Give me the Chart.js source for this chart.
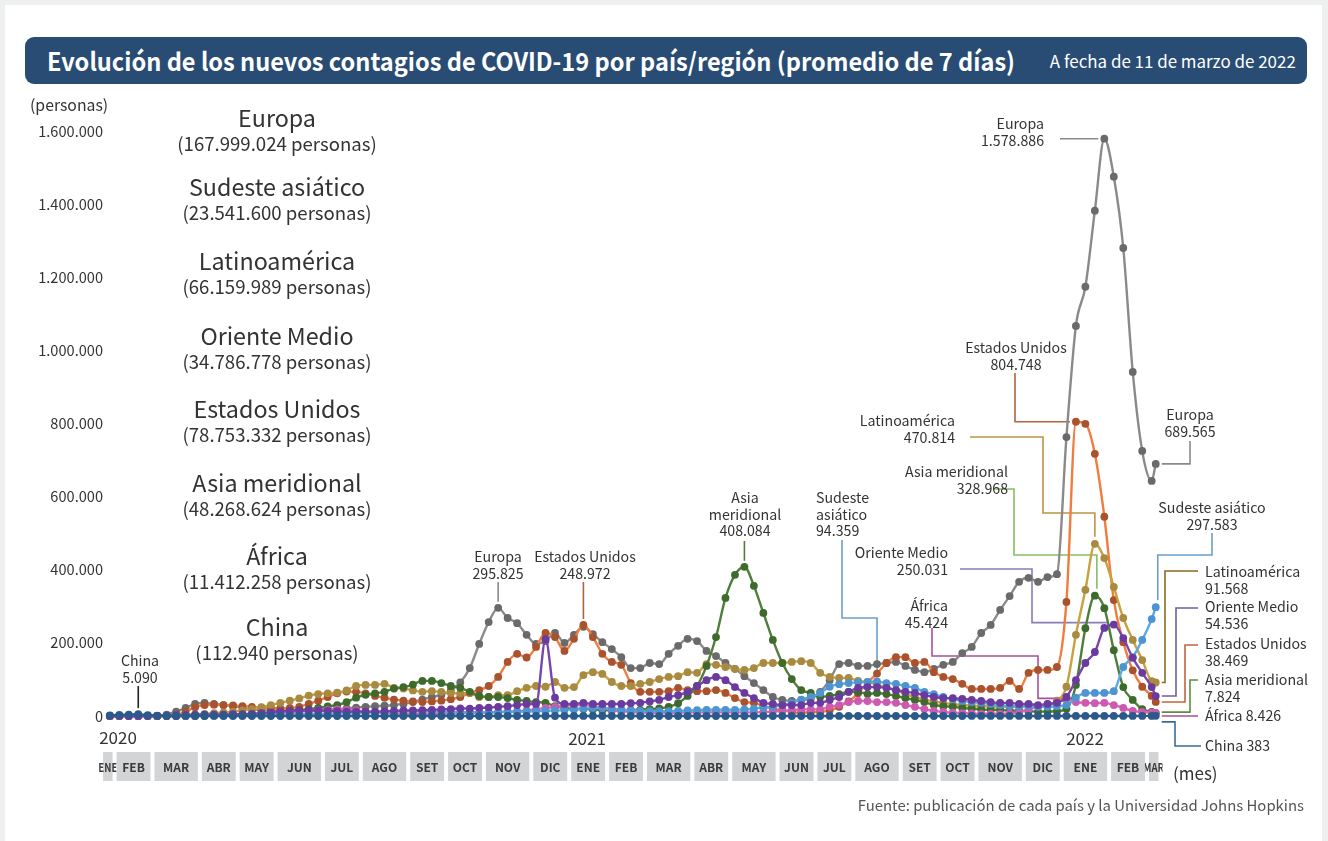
<!DOCTYPE html>
<html lang="es">
<head>
<meta charset="utf-8">
<script src="https://cdn.jsdelivr.net/npm/chart.js@4.4.1/dist/chart.umd.min.js"></script>
<style>
  html, body { margin: 0; padding: 0; background: #eef0f0; }
  body { width: 1328px; height: 841px; position: relative; overflow: hidden;
         font-family: "Noto Sans CJK JP", "Noto Sans", sans-serif; color: #333; }
  #card { position: absolute; left: 5px; top: 5px; width: 1317px; height: 840px; background: #fff; }
  #bar { position: absolute; left: 25px; top: 37px; width: 1282px; height: 47px; background: #284c73; border-radius: 9px; }
  #title { position: absolute; left: 22px; top: 0; line-height: 47px; font-size: 25px; font-weight: 700;
           color: #fff; white-space: nowrap; transform-origin: left center; }
  #date { position: absolute; right: 11px; top: 0; line-height: 47px; font-size: 17px; color: #fff;
          white-space: nowrap; transform-origin: right center; }
  canvas { position: absolute; left: 0; top: 0; }
  .t { position: absolute; white-space: nowrap; }
  .name { font-size: 23.3px; line-height: 28px; width: 400px; text-align: center; }
  .sub { font-size: 18.6px; line-height: 22px; width: 400px; text-align: center; }
</style>
</head>
<body>
<div id="card"></div>
<div id="bar">
  <span id="title">Evolución de los nuevos contagios de COVID-19 por país/región (promedio de 7 días)</span>
  <span id="date">A fecha de 11 de marzo de 2022</span>
</div>
<canvas id="chart" width="1328" height="841"></canvas>
<div id="texts"></div>
<script>
const FONT = '"Noto Sans CJK JP", "Noto Sans", sans-serif';

// semanas (lunes) + último dato del 10 de marzo de 2022
const weeks = [];
for (let t = Date.UTC(2020, 0, 27); t <= Date.UTC(2022, 2, 7); t += 7 * 864e5) {
  weeks.push(new Date(t).toISOString().slice(0, 10));
}
weeks.push("2022-03-10");

const monthLabels = ["ENE", "FEB", "MAR", "ABR", "MAY", "JUN", "JUL", "AGO", "SET", "OCT", "NOV", "DIC"];
const yTicks = [0, 200000, 400000, 600000, 800000, 1000000, 1200000, 1400000, 1600000];

// nuevos contagios, promedio de 7 días (miles de personas)
const europa = [
  0, 0, 0, 0.1, 0.3, 1, 4, 12, 22, 33,
  36, 33, 30, 27, 22, 18, 16, 15, 15, 16,
  17, 17, 18, 18, 19, 21, 23, 25, 27, 28,
  30, 33, 38, 45, 52, 58, 70, 92, 131, 197,
  257, 295.825, 268, 254, 222, 197, 205, 227, 200, 222,
  244, 224, 202, 183, 161, 131, 131, 145, 142, 170,
  192, 211, 205, 178, 164, 145, 129, 109, 90, 71,
  52, 44, 41, 44, 47, 66, 98, 142, 145, 137,
  137, 142, 145, 148, 137, 126, 120, 129, 140, 148,
  172, 189, 227, 249, 290, 328, 367, 378, 367, 380,
  388, 763, 1067, 1174, 1382, 1578.886, 1475, 1280, 941, 725,
  643, 689.565
];
const estadosUnidos = [
  0, 0, 0, 0, 0, 0.1, 0.5, 3, 12, 24,
  30, 31, 30, 29, 27, 25, 23, 22, 21, 22,
  25, 33, 42, 52, 62, 67, 66, 62, 55, 50,
  45, 42, 40, 38, 40, 42, 46, 52, 63, 71,
  82, 107, 148, 170, 160, 189, 227, 216, 178, 211,
  248.972, 216, 170, 148, 140, 90, 66, 66, 66, 68,
  77, 71, 68, 68, 71, 63, 49, 38, 36, 27,
  19, 16, 11, 8, 11, 11, 16, 25, 40, 62,
  92, 116, 145, 161, 161, 145, 148, 120, 107, 101,
  88, 74, 74, 74, 77, 96, 74, 118, 126, 126,
  134, 312, 804.748, 799, 717, 545, 317, 202, 125, 80,
  55, 38.469
];
const latinoamerica = [
  0, 0, 0, 0, 0, 0.1, 0.3, 1, 2.5, 4,
  6, 8, 10, 12, 15, 19, 24, 30, 36, 42,
  48, 56, 60, 62, 64, 70, 82, 85, 85, 88,
  77, 75, 70, 66, 68, 66, 63, 62, 63, 52,
  52, 57, 57, 68, 77, 82, 80, 93, 77, 79,
  112, 120, 115, 93, 82, 82, 88, 93, 101, 107,
  109, 120, 118, 142, 140, 134, 129, 126, 131, 145,
  145, 145, 148, 150, 145, 118, 107, 104, 104, 96,
  93, 85, 78, 70, 60, 52, 45, 40, 36, 32,
  30, 28, 27, 26, 25, 25, 25, 26, 27, 30,
  42, 80, 222, 345, 470.814, 432, 353, 268, 208, 153,
  95, 91.568
];
const asiaMeridional = [
  0, 0, 0, 0, 0, 0, 0, 0, 0.1, 0.3,
  0.8, 1.5, 2, 2.5, 3.5, 5, 6.5, 8, 10, 13,
  16, 19, 22, 26, 30, 38, 50, 58, 62, 66,
  75, 79, 86, 96, 96, 90, 82, 77, 66, 55,
  52, 52, 49, 44, 41, 38, 36, 27, 22, 19,
  19, 18, 16, 15, 15, 16, 17, 19, 21, 25,
  35, 55, 82, 137, 216, 323, 386, 408.084, 356, 282,
  208, 145, 101, 71, 63, 52, 55, 60, 66, 66,
  60, 63, 60, 55, 49, 44, 38, 30, 27, 25,
  22, 20, 18, 17, 16, 15, 14, 13, 12, 12,
  13, 20, 85, 240, 328.968, 295, 180, 79, 44, 19,
  11, 7.824
];
const orienteMedio = [
  0, 0, 0, 0, 0.05, 0.3, 1, 2, 3, 3.5,
  3.5, 3.5, 4, 5, 5, 6, 8, 10, 12, 14,
  15, 15, 15, 14, 13, 12, 12, 12, 12, 13,
  14, 15, 15, 16, 17, 18, 19, 21, 20, 22,
  23, 25, 27, 30, 33, 33, 210, 50, 33, 33,
  36, 33, 33, 33, 33, 35, 36, 40, 44, 52,
  57, 66, 82, 98, 107, 98, 79, 63, 49, 36,
  33, 30, 30, 30, 36, 36, 44, 52, 66, 77,
  79, 79, 77, 71, 66, 63, 57, 52, 49, 49,
  47, 44, 41, 38, 36, 36, 33, 33, 30, 33,
  36, 52, 98, 145, 175, 241, 250.031, 213, 159, 118,
  79, 54.536
];
const sudesteAsiatico = [
  0, 0, 0, 0, 0, 0.1, 0.3, 0.8, 1.2, 1.5,
  1.8, 2, 2, 2.2, 2.5, 2.8, 3, 3.5, 4, 4.5,
  5, 5.5, 6, 6.5, 7, 7.5, 8, 9, 10, 11,
  12, 12.5, 13, 13, 12.5, 12, 11, 11, 10.5, 10,
  10, 10.5, 11, 11.5, 12, 13, 14, 15, 16, 18,
  20, 22, 22, 20, 18, 16, 14, 13, 13, 13,
  14, 15, 16, 17, 17, 17, 17, 18, 20, 23,
  25, 30, 36, 45, 52, 63, 80, 87, 90, 92,
  93, 94.359, 90, 88, 82, 77, 66, 60, 52, 46,
  41, 38, 36, 33, 30, 27, 27, 27, 25, 25,
  27, 30, 50, 63, 63, 63, 68, 134, 161, 208,
  265, 297.583
];
const africa = [
  0, 0, 0, 0, 0, 0, 0.05, 0.2, 0.5, 0.8,
  1, 1.5, 2, 2.5, 3, 4, 5, 6, 8, 10,
  12, 14, 16, 17, 18, 17, 15, 12, 10, 8,
  7, 6, 6, 6, 6, 6, 7, 8, 9, 9,
  10, 11, 12, 13, 15, 18, 22, 25, 28, 30,
  30, 27, 22, 17, 13, 11, 10, 9, 9, 9,
  9, 10, 10, 10, 10, 10, 10, 10, 10, 11,
  12, 14, 16, 18, 18, 18, 25, 30, 38, 41,
  41, 38, 38, 36, 30, 25, 19, 14, 11, 9,
  8, 7, 6, 6, 6, 7, 10, 18, 26, 32,
  38, 45.424, 38, 36, 35, 36, 30, 22, 14, 11,
  9, 8.426
];
const china = [
  1.8, 3.0, 3.9, 5.09, 2.2, 0.5, 0.05, 0.05, 0.07, 0.05,
  0.05, 0.07, 0.03, 0.01, 0.01, 0.01, 0.01, 0.01, 0.02, 0.03,
  0.03, 0.02, 0.02, 0.02, 0.03, 0.06, 0.1, 0.05, 0.03, 0.02,
  0.02, 0.02, 0.02, 0.02, 0.02, 0.02, 0.02, 0.02, 0.02, 0.02,
  0.02, 0.02, 0.02, 0.02, 0.02, 0.03, 0.03, 0.05, 0.06, 0.1,
  0.12, 0.1, 0.06, 0.03, 0.02, 0.02, 0.02, 0.02, 0.02, 0.02,
  0.02, 0.02, 0.02, 0.02, 0.02, 0.02, 0.02, 0.02, 0.02, 0.03,
  0.03, 0.03, 0.03, 0.03, 0.04, 0.06, 0.08, 0.1, 0.09, 0.06,
  0.04, 0.04, 0.04, 0.04, 0.04, 0.04, 0.04, 0.04, 0.04, 0.05,
  0.06, 0.07, 0.08, 0.08, 0.07, 0.07, 0.07, 0.08, 0.08, 0.1,
  0.13, 0.15, 0.16, 0.16, 0.15, 0.14, 0.14, 0.15, 0.17, 0.22,
  0.3, 0.383
];

// totales acumulados (texto de la izquierda)
const regions = ["Europa", "Sudeste asiático", "Latinoamérica", "Oriente Medio", "Estados Unidos", "Asia meridional", "África", "China"];
const totals = ["167.999.024", "23.541.600", "66.159.989", "34.786.778", "78.753.332", "48.268.624", "11.412.258", "112.940"];

const fmt = v => Math.round(v).toString().replace(/\B(?=(\d{3})+(?!\d))/g, ".");
const xPos = weeks.map(w => (Date.parse(w) - Date.parse(weeks[0])) / (7 * 864e5));

const seriesByName = {
  "Europa": europa, "Estados Unidos": estadosUnidos, "Latinoamérica": latinoamerica,
  "Asia meridional": asiaMeridional, "Oriente Medio": orienteMedio,
  "Sudeste asiático": sudesteAsiatico, "África": africa, "China": china
};

function serie(label, line, dot, order) {
  return {
    label: label,
    data: seriesByName[label].map((v, i) => ({ x: xPos[i], y: v * 1000 })),
    borderColor: line,
    backgroundColor: dot,
    pointBackgroundColor: dot,
    pointBorderWidth: 0,
    pointRadius: 3.9,
    borderWidth: 2.4,
    cubicInterpolationMode: "monotone",
    clip: false,
    order: order
  };
}

// etiquetas con líneas guía
const last = weeks.length - 1;
const notes = [
  { s: "China", i: 3, lines: ["China", "{v}"], tx: 140, ty: 661, align: "center", color: "#222",
    path: p => [[p.x, 686], [p.x, p.y - 6]] },
  { s: "Europa", i: 41, lines: ["Europa", "{v}"], tx: 498, ty: 557, align: "center", color: "#8a8a8a",
    path: p => [[p.x, 582], [p.x, p.y - 6]] },
  { s: "Estados Unidos", i: 50, lines: ["Estados Unidos", "{v}"], tx: 585, ty: 557, align: "center", color: "#b4643c",
    path: p => [[p.x, 582], [p.x, p.y - 6]] },
  { s: "Asia meridional", i: 67, lines: ["Asia", "meridional", "{v}"], tx: 745, ty: 498, align: "center", color: "#4e7d3a",
    path: p => [[p.x, 541], [p.x, p.y - 6]] },
  { s: "Sudeste asiático", i: 81, lines: ["Sudeste", "asiático", "{v}"], tx: 816, ty: 498, align: "left", color: "#6a9fcc",
    path: p => [[842, 540], [842, 618], [p.x, 618], [p.x, p.y - 6]] },
  { s: "Oriente Medio", i: 106, lines: ["Oriente Medio", "{v}"], tx: 948, ty: 553, align: "right", color: "#8b7bb8",
    path: p => [[960, 569], [1032, 569], [1032, p.y - 2], [p.x - 7, p.y - 2]] },
  { s: "África", i: 101, lines: ["África", "{v}"], tx: 948, ty: 606, align: "right", color: "#a8509a",
    path: p => [[932, 628], [932, 656], [1038, 656], [1038, p.y - 1], [p.x + 5, p.y - 1]] },
  { s: "Estados Unidos", i: 102, lines: ["Estados Unidos", "{v}"], tx: 1016, ty: 348, align: "center", color: "#b4643c",
    path: p => [[1015, 373], [1015, p.y], [p.x - 6, p.y]] },
  { s: "Europa", i: 105, lines: ["Europa", "{v}"], tx: 1044, ty: 124, align: "right", color: "#8a8a8a",
    path: p => [[1060, p.y], [p.x - 6, p.y]] },
  { s: "Latinoamérica", i: 104, lines: ["Latinoamérica", "{v}"], tx: 955, ty: 421, align: "right", color: "#bb9540",
    path: p => [[970, 437], [1043, 437], [1043, 513], [p.x, 513], [p.x, p.y - 7]] },
  { s: "Asia meridional", i: 104, lines: ["Asia meridional", "{v}"], tx: 1008, ty: 472, align: "right", color: "#86bf5f",
    path: p => [[993, 489], [1014, 489], [1014, 555], [p.x + 2, 555], [p.x + 2, p.y - 7]] },
  { s: "Europa", i: last, lines: ["Europa", "{v}"], tx: 1190, ty: 415, align: "center", color: "#8a8a8a",
    path: p => [[1190, 441], [1190, p.y], [p.x + 6, p.y]] },
  { s: "Sudeste asiático", i: last, lines: ["Sudeste asiático", "{v}"], tx: 1212, ty: 508, align: "center", color: "#6a9fcc",
    path: p => [[1212, 533], [1212, 555], [p.x + 2, 555], [p.x + 2, p.y - 7]] },
  { s: "Latinoamérica", i: last, lines: ["Latinoamérica", "{v}"], tx: 1205, ty: 572, align: "left", color: "#8c6c1e",
    path: p => [[1198, 571], [1165, 571], [1165, p.y], [p.x + 6, p.y]] },
  { s: "Oriente Medio", i: last, lines: ["Oriente Medio", "{v}"], tx: 1205, ty: 607, align: "left", color: "#6d5f9c",
    path: p => [[1198, 608], [1176, 608], [1176, p.y], [p.x + 6, p.y]] },
  { s: "Estados Unidos", i: last, lines: ["Estados Unidos", "{v}"], tx: 1205, ty: 644, align: "left", color: "#c0663c",
    path: p => [[1198, 645], [1185, 645], [1185, p.y], [p.x + 6, p.y]] },
  { s: "Asia meridional", i: last, lines: ["Asia meridional", "{v}"], tx: 1205, ty: 680, align: "left", color: "#5d8f3e",
    path: p => [[1198, 680], [1190, 680], [1190, p.y - 1], [p.x + 6, p.y - 1]] },
  { s: "África", i: last, lines: ["África {v}"], tx: 1205, ty: 716, align: "left", color: "#b04a9a",
    path: p => [[1198, 716], [p.x + 6, 716]] },
  { s: "China", i: last, lines: ["China {v}"], tx: 1205, ty: 746, align: "left", color: "#3b6b9b",
    path: p => [[p.x + 6, p.y + 6], [1175, p.y + 6], [1175, 746], [1201, 746]] }
];

function notePoint(chart, n) {
  const vals = seriesByName[n.s];
  return {
    x: chart.scales.x.getPixelForValue(xPos[n.i]),
    y: chart.scales.y.getPixelForValue(vals[n.i] * 1000)
  };
}

const overlay = {
  id: "overlay",
  beforeDatasetsDraw(chart) {
    const ctx = chart.ctx;
    ctx.save();
    ctx.lineWidth = 1.6;
    notes.forEach(n => {
      const pts = n.path(notePoint(chart, n));
      ctx.strokeStyle = n.color;
      ctx.beginPath();
      pts.forEach((q, k) => k ? ctx.lineTo(q[0], q[1]) : ctx.moveTo(q[0], q[1]));
      ctx.stroke();
    });
    ctx.restore();
  },
  afterDatasetsDraw(chart) {
    const ctx = chart.ctx;
    const x = chart.scales.x;
    ctx.save();

    // barras de meses
    const groups = [];
    weeks.forEach((w, i) => {
      const key = w.slice(0, 7);
      const g = groups[groups.length - 1];
      if (g && g.key === key) g.last = i;
      else groups.push({ key: key, first: i, last: i, m: +w.slice(5, 7) - 1 });
    });
    ctx.font = "bold 12px " + FONT;
    ctx.textAlign = "center";
    ctx.textBaseline = "middle";
    groups.forEach((g, k) => {
      let x1 = x.getPixelForValue(xPos[g.first] - 0.5) + 2;
      const x2 = x.getPixelForValue(xPos[g.last] + 0.5) - 2;
      if (k === 0) x1 -= 4;
      ctx.fillStyle = "#d3d4d6";
      ctx.fillRect(x1, 752, x2 - x1, 29);
      const narrow = x2 - x1 < 20;
      ctx.save();
      ctx.beginPath();
      ctx.rect(x1 - (narrow ? 4 : 0), 752, x2 - x1 + (narrow ? 8 : 0), 29);
      ctx.clip();
      ctx.fillStyle = "#3a3a3a";
      const cx = (x1 + x2) / 2;
      if (narrow) {
        ctx.translate(cx, 767);
        ctx.scale(0.8, 1);
        ctx.fillText(monthLabels[g.m], 0, 0);
      } else {
        ctx.fillText(monthLabels[g.m], cx, 767);
      }
      ctx.restore();
    });

    // textos de las etiquetas
    ctx.font = "14.2px " + FONT;
    ctx.fillStyle = "#333";
    notes.forEach(n => {
      const v = fmt(seriesByName[n.s][n.i] * 1000);
      ctx.textAlign = n.align;
      n.lines.forEach((l, k) => ctx.fillText(l.replace("{v}", v), n.tx, n.ty + k * 16.5));
    });
    ctx.restore();
  }
};

new Chart(document.getElementById("chart"), {
  type: "line",
  data: {
    datasets: [
      serie("China", "#2d5b8a", "#2b5a8a", 0),
      serie("Oriente Medio", "#7646ad", "#6a3a9e", 1),
      serie("Sudeste asiático", "#5aa8e6", "#4d94d0", 2),
      serie("África", "#d868ba", "#cc5aae", 3),
      serie("Asia meridional", "#4f7d3a", "#3e6b2c", 4),
      serie("Latinoamérica", "#c9a240", "#a88a40", 5),
      serie("Estados Unidos", "#f07d3d", "#a8522e", 6),
      serie("Europa", "#8a8a8a", "#6a6a6a", 7)
    ]
  },
  options: {
    responsive: false,
    animation: false,
    devicePixelRatio: 1,
    layout: { padding: { left: 0, right: 164, top: 131, bottom: 125 } },
    plugins: { legend: { display: false }, tooltip: { enabled: false } },
    scales: {
      x: { type: "linear", min: -0.3, max: 111.3, display: false },
      y: {
        min: 0, max: 1600000,
        afterBuildTicks: s => { s.ticks = yTicks.map(v => ({ value: v })); },
        afterFit: s => { s.width = 107; },
        grid: { display: false, drawTicks: false },
        border: { display: false },
        ticks: { color: "#333", padding: 4, font: { family: FONT, size: 14.6 }, callback: v => fmt(v) }
      }
    }
  },
  plugins: [overlay]
});

// textos fijos
const box = document.getElementById("texts");
function addText(txt, cls, style) {
  const d = document.createElement("div");
  d.className = "t " + cls;
  d.textContent = txt;
  Object.assign(d.style, style);
  box.appendChild(d);
  return d;
}
const nameY = [117, 186, 260, 335, 408, 482, 555, 626];
regions.forEach((r, k) => {
  addText(r, "name", { left: "77px", top: (nameY[k] - 14) + "px" });
  addText("(" + totals[k] + " personas)", "sub", { left: "77px", top: (nameY[k] + 26 - 11) + "px" });
});
addText("(personas)", "", { left: "30px", top: "95px", fontSize: "15.8px", lineHeight: "20px" });
addText("2020", "", { left: "68px", width: "100px", textAlign: "center", top: "727px", fontSize: "17px", lineHeight: "20px" });
addText("2021", "", { left: "537px", width: "100px", textAlign: "center", top: "728px", fontSize: "17px", lineHeight: "20px" });
addText("2022", "", { left: "1035px", width: "100px", textAlign: "center", top: "728px", fontSize: "17px", lineHeight: "20px" });
addText("(mes)", "", { left: "1173px", top: "763px", fontSize: "17px", lineHeight: "20px" });
addText("Fuente: publicación de cada país y la Universidad Johns Hopkins", "",
  { right: "24px", top: "795px", fontSize: "14.9px", lineHeight: "20px", color: "#555" });

// ajustar anchura del título
function fitWidth(el, w) {
  const cur = el.getBoundingClientRect().width;
  if (cur > 0) el.style.transform = "scaleX(" + (w / cur) + ")";
}
fitWidth(document.getElementById("title"), 968);
fitWidth(document.getElementById("date"), 246);
</script>
</body>
</html>
